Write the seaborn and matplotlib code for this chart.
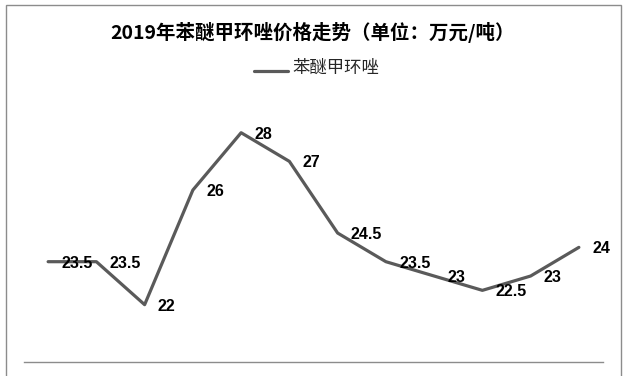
import pandas as pd
import numpy as np
import matplotlib.pyplot as plt
import seaborn as sns
from matplotlib.patches import Rectangle

# 数据
months = ['1月', '2月', '3月', '4月', '5月', '6月', '7月', '8月', '9月', '10月', '11月', '12月']
prices = [23.5, 23.5, 22, 26, 28, 27, 24.5, 23.5, 23, 22.5, 23, 24]
series_name = '苯醚甲环唑'
title = '2019年苯醚甲环唑价格走势（单位：万元/吨）'

df = pd.DataFrame({'月份': months, '价格': prices, '品种': series_name})
df['idx'] = np.arange(len(months))

sns.set_style('white')
plt.rcParams['font.family'] = ['Noto Sans CJK SC', 'DejaVu Sans']

W, H = 626, 376
fig = plt.figure(figsize=(W / 100, H / 100), dpi=100)
ax = fig.add_axes([24 / W, 1 - 362 / H, 579 / W, (362 - 75.4) / H])

line_color = '#5a5a5a'
sns.lineplot(data=df, x='idx', y='价格', hue='品种', palette=[line_color],
             linewidth=2.3, ax=ax, legend=False)

ax.set_xlim(-0.5, len(months) - 0.5)
ax.set_ylim(20, 30)
ax.set_xticks([])
ax.set_yticks([])
ax.set_xlabel('')
ax.set_ylabel('')
for s in ['top', 'left', 'right']:
    ax.spines[s].set_visible(False)
ax.spines['bottom'].set_color('#8c8c8c')
ax.spines['bottom'].set_linewidth(1)

# 数据标签
for i, v in enumerate(prices):
    ax.annotate(f'{v:g}', (i, v), xytext=(9.5, -1), textcoords='offset points',
                ha='left', va='center', fontsize=11.5, fontweight='bold',
                family=['Liberation Sans', 'DejaVu Sans'], color='black')

fig.text(0.5, 1 - 32 / H, title, ha='center', va='center', fontsize=14,
         fontweight='bold', color='black')

# 图例
fig.lines.append(plt.Line2D([254 / W, 288 / W], [1 - 71 / H] * 2,
                            color=line_color, linewidth=2.3, transform=fig.transFigure))
fig.text(292 / W, 1 - 68 / H, series_name, ha='left', va='center', fontsize=12.5)

# 外框
fig.patches.append(Rectangle((6 / W, -0.05), 615 / W, 1.05 - 5 / H,
                             transform=fig.transFigure, fill=False,
                             edgecolor='#8c8c8c', linewidth=1))

plt.savefig('out.png', dpi=100)
